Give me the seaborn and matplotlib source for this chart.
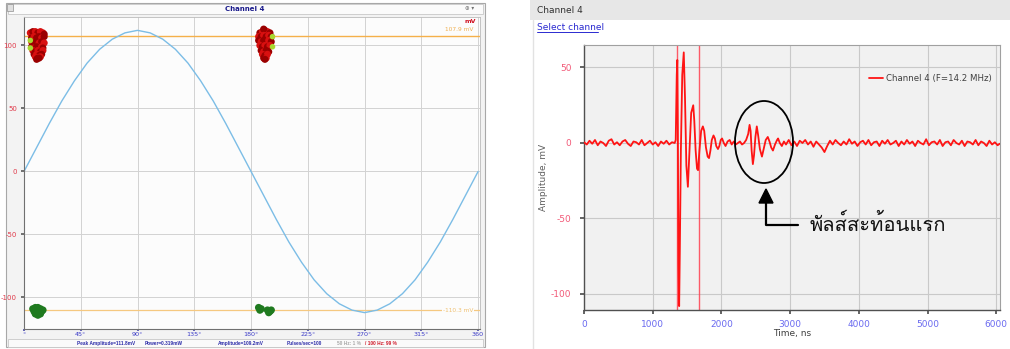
import numpy as np
import pandas as pd
import matplotlib
matplotlib.use("Agg")
import matplotlib.pyplot as plt
import seaborn as sns
from matplotlib import font_manager
from matplotlib.ft2font import FT2Font
from matplotlib.patches import Rectangle, Ellipse, Polygon
from matplotlib.lines import Line2D
from matplotlib.ticker import MultipleLocator

# ---------------- data: left panel (phase-resolved) ----------------
sine_phase = [0, 10, 20, 30, 40, 50, 60, 70, 80, 90, 100, 110, 120, 130, 140, 150, 160, 170, 180,
              190, 200, 210, 220, 230, 240, 250, 260, 270, 280, 290, 300, 310, 320, 330, 340, 350, 360]
sine_amp = [0, 19, 38, 56, 72, 86, 97, 105, 110, 112, 110, 105, 97, 86, 72, 56, 38, 19, 0,
            -19, -38, -56, -72, -86, -97, -105, -110, -112, -110, -105, -97, -86, -72, -56, -38, -19, 0]

pos1_phase = [5, 7, 9, 11, 13, 15, 16, 6, 8, 10, 12, 14, 16, 6, 8, 10, 12, 14, 16, 6, 8, 10, 12, 14, 15,
              7, 9, 11, 13, 15, 8, 10, 12, 14, 9, 11, 13, 10, 12]
pos1_amp = [110, 111, 111, 110, 111, 110, 109, 106, 107, 106, 107, 106, 107, 103, 102, 103, 102, 103, 102,
            99, 98, 99, 98, 99, 98, 96, 95, 96, 95, 96, 93, 93, 92, 93, 91, 90, 91, 89, 90]
pos1_shade = ["b", "d", "b", "d", "b", "b", "d", "d", "b", "d", "d", "b", "d", "b", "d", "d", "b", "d", "b",
              "d", "b", "d", "d", "b", "d", "b", "d", "b", "d", "b", "d", "b", "d", "d", "b", "d", "b", "d", "d"]
pos2_phase = [187, 189, 191, 193, 195, 190, 186, 188, 190, 192, 194, 196, 186, 188, 190, 192, 194, 196,
              187, 189, 191, 193, 195, 188, 190, 192, 194, 189, 191, 193, 190, 192, 191]
pos2_amp = [110, 111, 112, 111, 110, 113, 107, 107, 108, 107, 108, 107, 104, 103, 104, 103, 104, 103,
            100, 99, 100, 99, 100, 96, 95, 96, 95, 93, 92, 93, 90, 90, 89]
pos2_shade = ["d", "b", "d", "b", "d", "d", "b", "d", "b", "d", "b", "d", "d", "b", "d", "d", "b", "d",
              "b", "d", "b", "d", "b", "d", "b", "d", "d", "b", "d", "b", "d", "b", "d"]
light_phase = [5, 5, 197, 197]
light_amp = [104, 98, 107, 99]
neg_phase = [7, 9, 11, 13, 15, 8, 10, 12, 14, 9, 11, 13, 186, 188, 187, 193, 195, 194, 196]
neg_amp = [-109, -108, -108, -109, -110, -111, -111, -112, -111, -113, -114, -113,
           -108, -109, -110, -110, -111, -112, -110]
upper_level = 107.9
lower_level = -110.3
x_ticks_l = [0, 45, 90, 135, 180, 225, 270, 315, 360]
x_labels_l = ["°", "45°", "90°", "135°", "180°", "225°", "270°", "315°", "360"]
y_ticks_l = [-100, -50, 0, 50, 100]
status_items = ["Peak Amplitude=111.8mV", "Power=0.319mW", "Amplitude=109.2mV", "Pulses/sec=100",
                "50 Hz: 1 %", "/ 100 Hz: 99 %"]

# ---------------- data: right panel (time signal) ----------------
sig_t = [0, 40, 80, 120, 160, 200, 240, 280, 320, 360, 400, 440, 480, 520, 560, 600, 640, 680, 720, 760,
         800, 840, 880, 920, 960, 1000, 1040, 1080, 1120, 1160, 1200, 1240, 1280, 1320,
         1335, 1350, 1358, 1366, 1375, 1385, 1395, 1410, 1430, 1452, 1470, 1490, 1512, 1535, 1560,
         1590, 1605, 1625, 1645, 1660, 1680, 1705, 1730, 1750, 1775, 1800, 1820, 1840, 1860, 1885,
         1905, 1925, 1950, 1970, 1990, 2010, 2035, 2060, 2090, 2120, 2150, 2180, 2210, 2240, 2270,
         2300, 2330, 2360, 2390, 2410, 2425, 2440, 2458, 2475, 2495, 2515, 2535, 2560, 2590, 2615,
         2645, 2675, 2700, 2725, 2750, 2780, 2810, 2825, 2850, 2880, 2910,
         2940, 2980, 3020, 3060, 3100, 3140, 3180, 3220, 3260, 3300, 3340, 3380, 3420, 3460, 3500,
         3540, 3580, 3620, 3660, 3700, 3740, 3780, 3820, 3860, 3900, 3940, 3980, 4020, 4060, 4100,
         4140, 4180, 4220, 4260, 4300, 4340, 4380, 4420, 4460, 4500, 4540, 4580, 4620, 4660, 4700,
         4740, 4780, 4820, 4860, 4900, 4940, 4980, 5020, 5060, 5100, 5140, 5180, 5220, 5260, 5300,
         5340, 5380, 5420, 5460, 5500, 5540, 5580, 5620, 5660, 5700, 5740, 5780, 5820, 5860, 5900,
         5940, 5980, 6020, 6050]
sig_a = [0.5, -1, 1.5, -0.5, 2, -1.5, 1, 0, -2, 1.5, 2.5, -1, 0.5, -1.5, 1, 2, -0.5, -2, 1, 0.5,
         -1, 2, -1.5, 0, 1.5, -1, 0.5, -2, 1, -0.5, 1.5, -1, 0.5, 0,
         2, 45, 55, 10, -80, -108, -70, -5, 45, 60, 30, -15, -29, -5, 20,
         25, 15, -5, -17, -18, -5, 8, 11, 8, -3, -9, -10, -5, 2, 5,
         3, -2, -4, -2, 2, 3, 0, -2, 1, 2, -1, 1, -1, 0, 1,
         -1, 0, 2, 6, 12, 8, -5, -14, -8, 4, 11, 5, -4, -9, -4,
         2, 4, 1, -3, -5, -1, 2, 3, 0, -2, 1,
         -1, 2, -1.5, 1, -2, 1.5, 0, 2, -1, 1, -2.5, 1, -1, -3, -6,
         -2, 1.5, -1, 2, 0, -1.5, 1, -1, 2.5, -0.5, 1, -2, 0.5, 1.5, -1,
         2, -1.5, 0.5, 1, -2, 1.5, -0.5, 2, -1, 0, 1.5, -2, 1, -1, 2,
         -0.5, 1, -2, 1.5, 0, -1, 2.5, -1.5, 0.5, 1, -1, 2, -2, 0.5, 1,
         -1.5, 2, 0, -1, 1.5, -2, 1, 0.5, -1, 2, -1.5, 1, 0, -2, 1.5,
         -1, 0.5, -1.5, -0.5]
cursor_t = [1352, 1672]
x_ticks_r = [0, 1000, 2000, 3000, 4000, 5000, 6000]
y_ticks_r = [-100, -50, 0, 50]
annot_text = "พัลส์สะท้อนแรก"

# ---------------- fonts ----------------
sns.set_theme(style="white")
plt.rcParams["font.family"] = ["DejaVu Sans"]
thai_font = None
for f in font_manager.fontManager.ttflist:
    try:
        cm = FT2Font(f.fname).get_charmap()
        if 0x0E1E in cm and 0x0E31 in cm and 0x0E4C in cm:
            thai_font = f.name
            break
    except Exception:
        pass

W, H = 1010, 349
fig = plt.figure(figsize=(W / 100, H / 100), dpi=100)
fig.patch.set_facecolor("white")


def fx(x):
    return x / W


def fy(y):
    return 1 - y / H


def frect(x0, y0, x1, y1, **kw):
    r = Rectangle((fx(x0), fy(y1)), (x1 - x0) / W, (y1 - y0) / H, transform=fig.transFigure, **kw)
    fig.patches.append(r)
    return r


# ---------------- left window frame ----------------
frect(6, 3, 485, 347, facecolor="#f3f3f3", edgecolor="#a8a8a8", lw=0.8, zorder=-10)
frect(8, 4, 483, 14, facecolor="#fbfbfb", edgecolor="#c8c8c8", lw=0.6, zorder=-9)
frect(7, 4, 13, 11, facecolor="#e0e0e0", edgecolor="#909090", lw=0.5, zorder=-8)
frect(8, 339, 483, 347, facecolor="#fafafa", edgecolor="#c8c8c8", lw=0.6, zorder=-9)
fig.text(fx(245), fy(9), "Channel 4", color="#1c1c8c", fontsize=5, fontweight="bold", ha="center", va="center")
fig.text(fx(470), fy(9), "⊕ ▾", color="#707070", fontsize=4, ha="center", va="center")

axL = fig.add_axes([fx(24), fy(329), 456 / W, 312 / H])
axL.set_facecolor("#fcfcfc")
sns.lineplot(x=sine_phase, y=sine_amp, ax=axL, color="#7cbde6", lw=1.0, sort=False, estimator=None)
axL.axhline(upper_level, color="#f5b04a", lw=1.0, zorder=1)
axL.axhline(lower_level, color="#f5c880", lw=0.9, zorder=1)

pos_df = pd.DataFrame({"phase": pos1_phase + pos2_phase, "amp": pos1_amp + pos2_amp,
                       "shade": pos1_shade + pos2_shade})
sns.scatterplot(data=pos_df, x="phase", y="amp", hue="shade", palette={"d": "#9a0000", "b": "#d81010"},
                s=26, edgecolor="none", ax=axL, legend=False, zorder=3)
sns.scatterplot(x=light_phase, y=light_amp, color="#a8d830", s=16, edgecolor="none", ax=axL, zorder=4)
sns.scatterplot(x=neg_phase, y=neg_amp, color="#1f7a1f", s=28, edgecolor="none", ax=axL, zorder=3)
axL.set_xlabel("")
axL.set_ylabel("")

axL.set_xlim(0, 361.5)
axL.set_ylim(-125, 122.6)
axL.set_xticks(x_ticks_l)
axL.set_xticklabels(x_labels_l)
axL.set_yticks(y_ticks_l)
axL.set_yticklabels([str(v) for v in y_ticks_l])
axL.xaxis.set_minor_locator(MultipleLocator(15))
axL.yaxis.set_minor_locator(MultipleLocator(10))
axL.grid(True, which="major", color="#d2d2d2", lw=0.7)
axL.tick_params(axis="x", which="both", labelsize=4.6, colors="#5050b0", labelcolor="#3c3cc8",
                direction="out", length=1.5, pad=0.8)
axL.tick_params(axis="y", which="both", labelsize=5, colors="#606060", labelcolor="#e03a4a",
                direction="out", length=2, pad=3)
axL.tick_params(axis="x", which="minor", length=1.2)
axL.tick_params(axis="y", which="minor", length=1.5)
axL.tick_params(left=True, bottom=True)
for s in ["left", "bottom"]:
    axL.spines[s].set_color("#707070")
    axL.spines[s].set_linewidth(0.8)
for s in ["top", "right"]:
    axL.spines[s].set_color("#bbbbbb")
    axL.spines[s].set_linewidth(0.6)
axL.text(358, 119, "mV", color="#d01020", fontsize=4.5, fontweight="bold", ha="right", va="center")
axL.text(356, 112.5, f"{upper_level} mV", color="#f0b050", fontsize=4.2, ha="right", va="center")
axL.text(356, lower_level, f"{lower_level} mV", color="#f0c070", fontsize=4.2, ha="right", va="center",
         bbox=dict(facecolor="#fcfcfc", edgecolor="none", pad=0.5))

status_x = [77, 145, 218, 287, 337, 365]
status_c = ["#2a2aa8", "#2a2aa8", "#2a2aa8", "#2a2aa8", "#a8a8a8", "#d01828"]
for sx, st, sc in zip(status_x, status_items, status_c):
    fig.text(fx(sx), fy(343.5), st, color=sc, fontsize=3.4, fontweight="bold", family="Liberation Sans",
             ha="left", va="center")

# ---------------- right window frame ----------------
frect(530, 0, 1010, 20, facecolor="#e7e7e7", edgecolor="none", zorder=-10)
fig.add_artist(Line2D([fx(533), fx(533)], [fy(20), fy(349)], color="#e2e2e2", lw=1.0,
                      transform=fig.transFigure, zorder=-10))
fig.text(fx(537), fy(10.5), "Channel 4", color="#303030", fontsize=6.5, ha="left", va="center")
fig.text(fx(537), fy(27), "Select channel", color="#2a2ad0", fontsize=6.5, ha="left", va="center")
fig.add_artist(Line2D([fx(537), fx(598)], [fy(32), fy(32)], color="#2a2ad0", lw=0.7,
                      transform=fig.transFigure))

axR = fig.add_axes([fx(584), fy(310), 416 / W, 265 / H])
axR.set_facecolor("#f1f1f1")
for ct in cursor_t:
    axR.axvline(ct, color="#ff4050", lw=1.0, alpha=0.85, zorder=2)
sns.lineplot(x=sig_t, y=sig_a, ax=axR, color="#ff1414", lw=1.3, sort=False, estimator=None,
             label="Channel 4 (F=14.2 MHz)", zorder=3)
axR.set_xlim(0, 6055)
axR.set_ylim(-110.6, 64.9)
axR.set_xticks(x_ticks_r)
axR.set_xticklabels([str(v) for v in x_ticks_r])
axR.set_yticks(y_ticks_r)
axR.set_yticklabels([str(v) for v in y_ticks_r])
axR.xaxis.set_minor_locator(MultipleLocator(200))
axR.yaxis.set_minor_locator(MultipleLocator(10))
axR.grid(True, which="major", color="#c9c9c9", lw=0.8)
axR.tick_params(axis="x", which="both", labelsize=6.5, colors="#505050", labelcolor="#6a6af0",
                direction="out", length=3, pad=4)
axR.tick_params(axis="y", which="both", labelsize=6.5, colors="#505050", labelcolor="#f25a78",
                direction="out", length=3, pad=6)
axR.tick_params(which="minor", length=2)
axR.tick_params(left=True, bottom=True)
for s in ["left", "bottom"]:
    axR.spines[s].set_color("#505050")
    axR.spines[s].set_linewidth(1.0)
for s in ["top", "right"]:
    axR.spines[s].set_color("#a0a0a0")
    axR.spines[s].set_linewidth(0.8)
axR.set_xlabel("Time, ns", fontsize=6.5, color="#404040", labelpad=0)
axR.set_ylabel("Amplitude, mV", fontsize=6.5, color="#606060", labelpad=2)
leg = axR.legend(loc="upper right", frameon=False, fontsize=6.2, handlelength=1.6, handletextpad=0.4,
                 bbox_to_anchor=(1.0, 0.92))
for txt in leg.get_texts():
    txt.set_color("#404040")

# ---------------- annotation ----------------
fig.patches.append(Ellipse((fx(764), fy(142)), 58 / W, 82 / H, transform=fig.transFigure,
                           facecolor="none", edgecolor="black", lw=1.3, zorder=10))
fig.patches.append(Polygon([(fx(766), fy(189)), (fx(759), fy(203)), (fx(773), fy(203))],
                           closed=True, transform=fig.transFigure, facecolor="black",
                           edgecolor="black", zorder=10))
fig.add_artist(Line2D([fx(766), fx(766), fx(798)], [fy(203), fy(225), fy(225)], color="black", lw=1.6,
                      transform=fig.transFigure, zorder=10))
fam = [thai_font, "DejaVu Sans"] if thai_font else ["DejaVu Sans"]
fig.text(fx(810), fy(224), annot_text, family=fam, fontsize=14.5, color="#111111", ha="left", va="center")

fig.savefig("out.png", dpi=100)
